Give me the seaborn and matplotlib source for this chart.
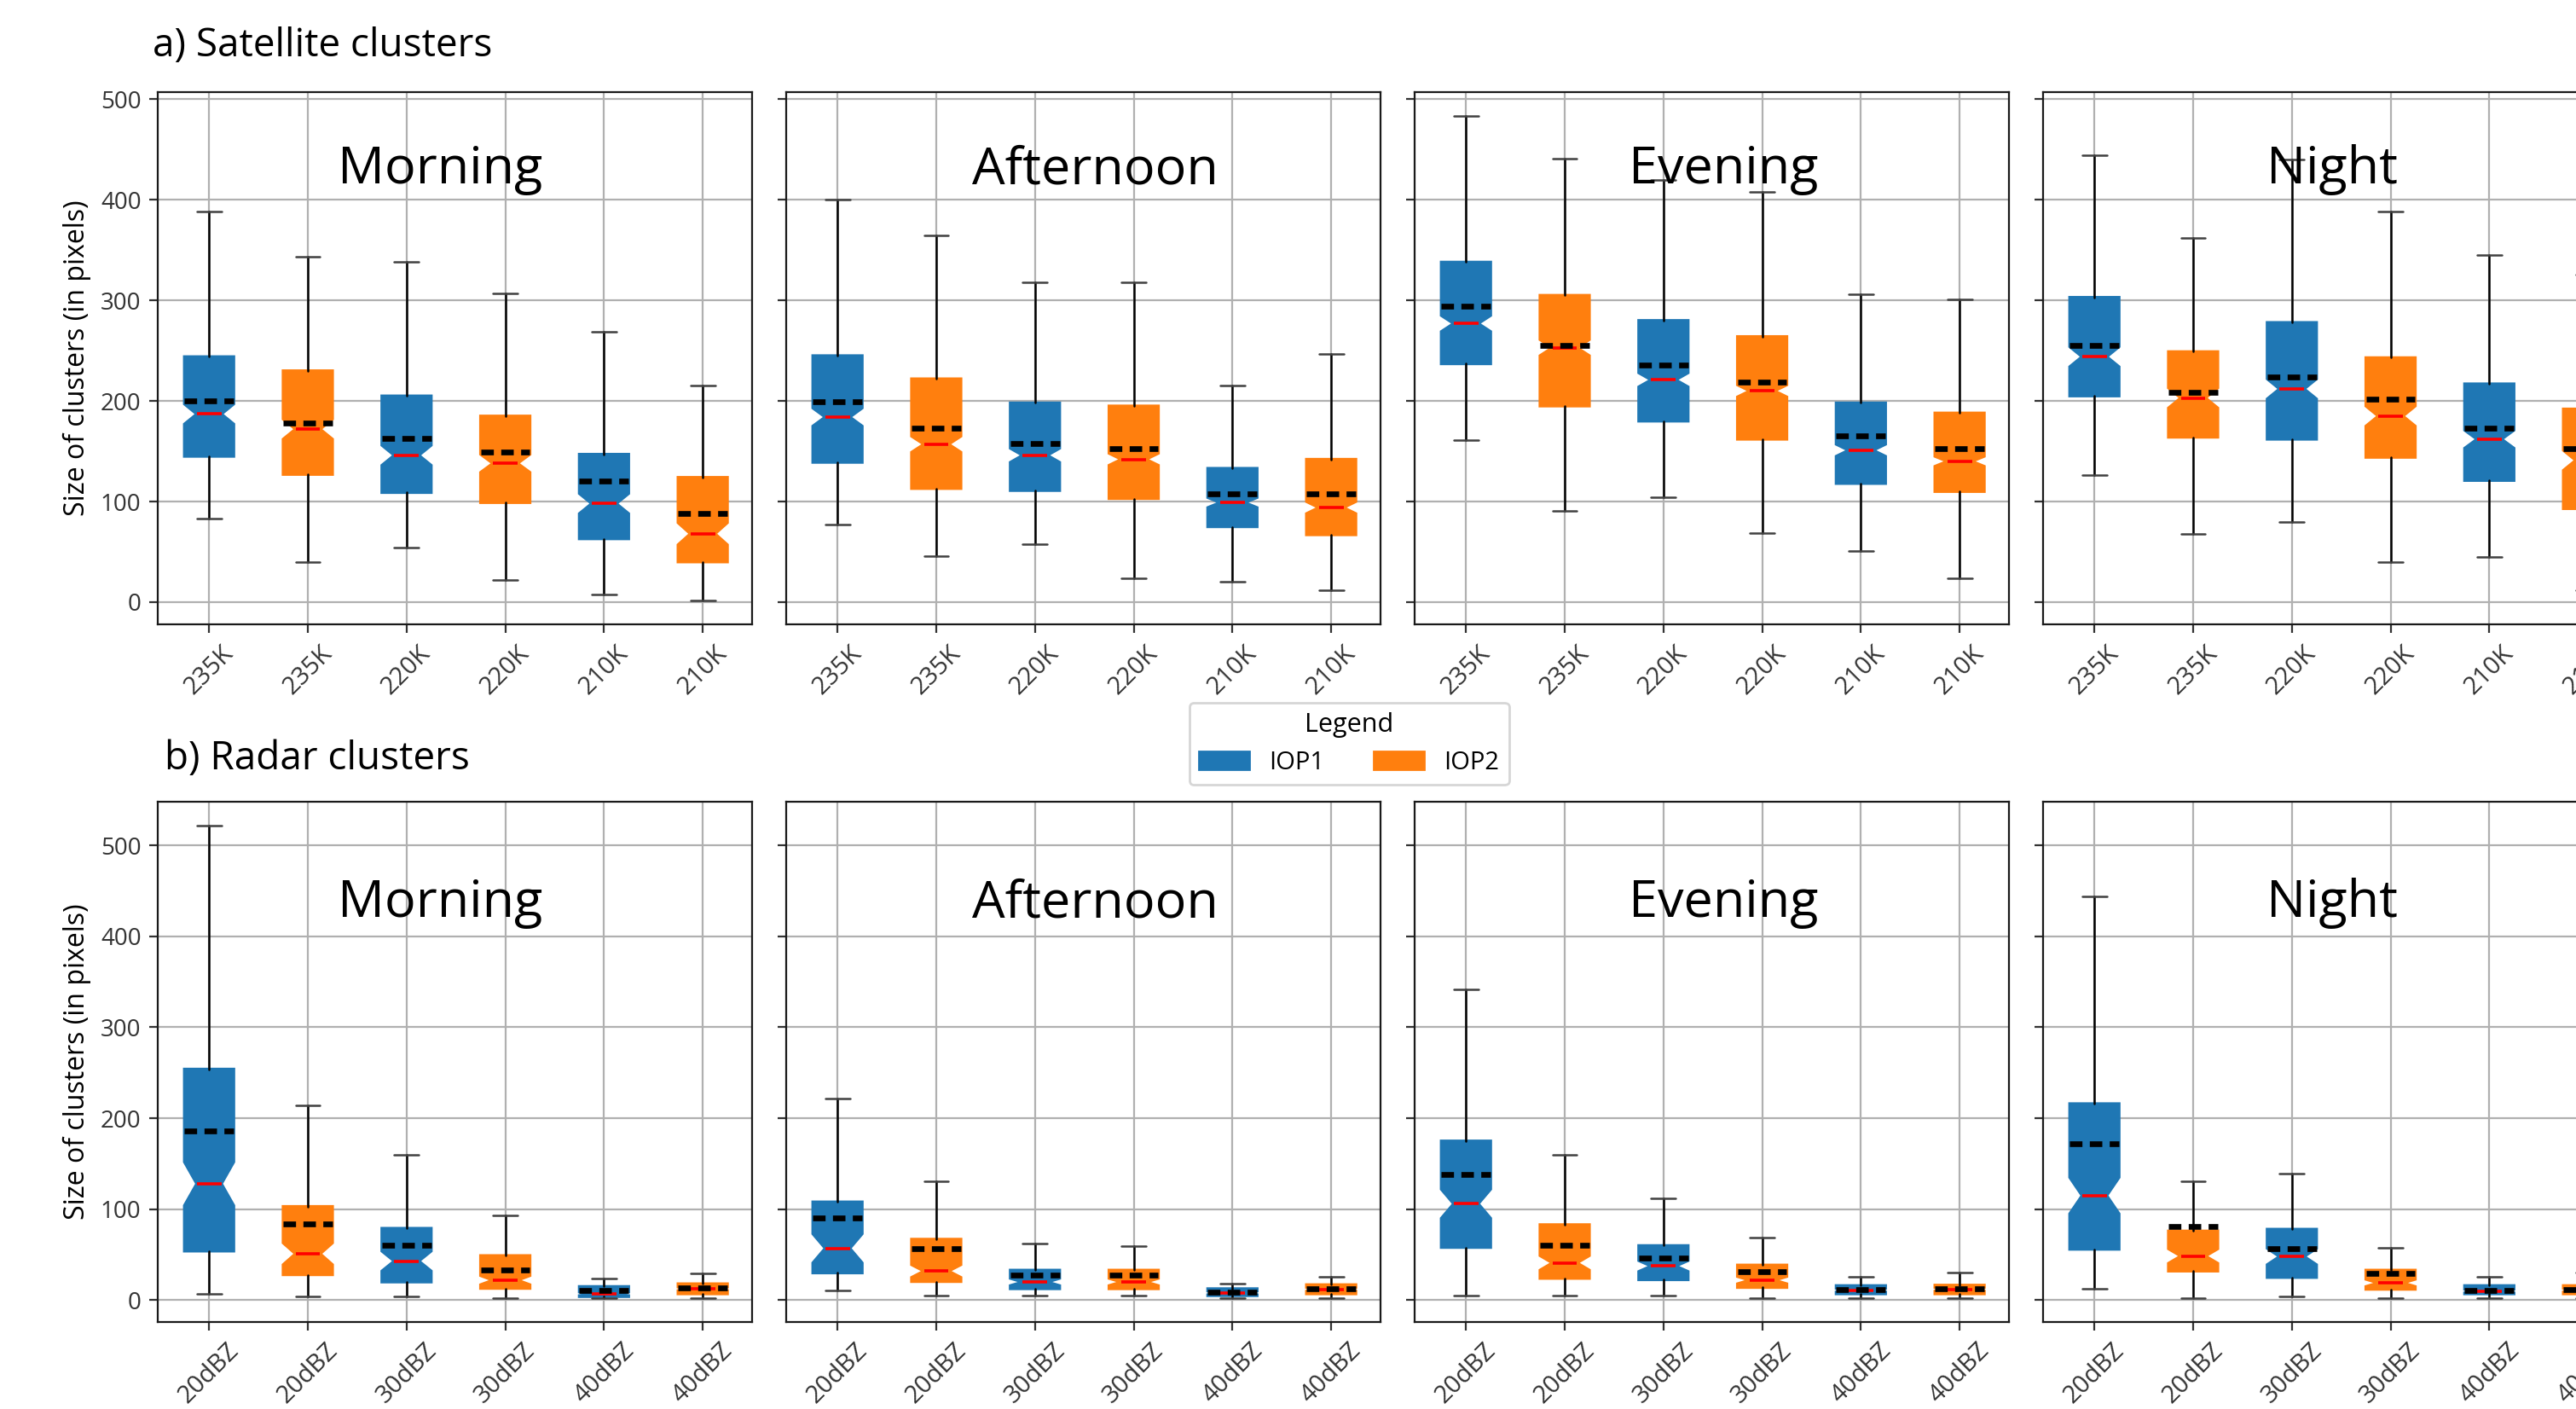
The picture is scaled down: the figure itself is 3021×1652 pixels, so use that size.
"""Cluster size box plots: satellite (a) and radar (b) clusters by time of day."""
import matplotlib
matplotlib.use("Agg")
import matplotlib.pyplot as plt
from matplotlib.patches import Patch
import seaborn as sns

periods = ["Morning", "Afternoon", "Evening", "Night"]
sat_labels = ["235K", "235K", "220K", "220K", "210K", "210K"]
radar_labels = ["20dBZ", "20dBZ", "30dBZ", "30dBZ", "40dBZ", "40dBZ"]
campaigns = ["IOP1", "IOP2"]

# satellite clusters: one row per period, one value per box (IOP1/IOP2 alternating)
sat_whislo = [[83, 40, 54, 22, 8, 2],
              [77, 46, 58, 24, 20, 12],
              [161, 91, 104, 69, 51, 24],
              [126, 68, 80, 40, 45, 12]]
sat_q1 = [[145, 127, 109, 99, 63, 40],
          [139, 113, 111, 103, 75, 67],
          [237, 195, 180, 162, 118, 110],
          [205, 164, 162, 144, 121, 93]]
sat_med = [[187, 172, 146, 138, 98, 68],
           [184, 157, 146, 142, 99, 94],
           [277, 253, 221, 210, 151, 140],
           [244, 203, 212, 185, 162, 141]]
sat_q3 = [[244, 230, 205, 185, 147, 124],
          [245, 222, 198, 195, 133, 142],
          [338, 305, 280, 264, 198, 188],
          [303, 249, 278, 243, 217, 192]]
sat_whishi = [[388, 343, 338, 307, 269, 215],
              [400, 365, 318, 318, 215, 247],
              [483, 441, 420, 408, 306, 301],
              [444, 362, 440, 388, 345, 326]]
sat_mean = [[200, 178, 163, 149, 120, 88],
            [199, 173, 158, 153, 108, 108],
            [294, 255, 236, 219, 165, 153],
            [255, 209, 224, 202, 173, 153]]
sat_notch = [[10, 10, 10, 9, 10, 11],
             [9, 8, 7, 6, 5, 6],
             [8, 8, 7, 6, 6, 5],
             [10, 10, 10, 10, 9, 10]]

# radar clusters
radar_whislo = [[7, 4.5, 4.5, 2, 2, 2],
                [11, 5, 5, 5, 2, 2],
                [5, 5, 5, 2, 2, 2],
                [12.6, 2, 4.5, 2, 2, 2]]
radar_q1 = [[54, 28, 20, 13, 4, 7],
            [30, 20.5, 12.6, 12.6, 5, 7],
            [58, 24, 22.5, 14, 7, 7],
            [56, 32, 25, 12, 7, 7]]
radar_med = [[128, 51, 43, 22, 7, 12.5],
             [57, 32, 20, 20, 8, 12],
             [106, 41, 37.5, 22, 11, 12],
             [115, 48.5, 48, 19, 10, 11]]
radar_q3 = [[254, 103, 79, 49, 15, 18],
            [108, 67, 33, 33, 12.6, 17],
            [175, 83, 60, 38.6, 16, 16.5],
            [216, 76, 78, 33, 16, 16]]
radar_whishi = [[522, 214, 160, 93, 24, 29],
                [222, 131, 62, 59, 18.5, 26],
                [342, 160, 112, 69, 26, 30],
                [444, 131, 139, 58, 26, 30]]
radar_mean = [[186, 84, 60, 33, 11, 13.5],
              [90, 57, 28, 28, 9, 12.6],
              [138, 60, 46.5, 31, 12, 12.6],
              [172, 81, 57, 29, 11, 12]]
radar_notch = [[24, 12, 11, 5, 2, 2],
               [16, 7, 4, 4, 2, 2],
               [16, 8, 6, 4, 2, 2],
               [20, 8, 9, 4, 2, 2]]

sns.set_style("ticks", {"axes.edgecolor": "0.1", "xtick.color": "0.2",
                        "ytick.color": "0.2", "text.color": "black",
                        "axes.labelcolor": "black", "grid.color": "#b0b0b0"})
plt.rcParams["font.family"] = ["Open Sans", "DejaVu Sans"]
colors = sns.color_palette("tab10")[:2]

W, H, DPI = 3021, 1652, 200
fig = plt.figure(figsize=(W / DPI, H / DPI), dpi=DPI)

lefts = [185, 922, 1659, 2396]
ax_w = 697
rows = [(108, 732), (940, 1550)]
title_y = [416, 421]
title_dx = [-0.15, 0.12, 0.12, -0.08]


def panel(ax, r, i, whislo, q1, med, q3, whishi, mean, notch, labels):
    stats = []
    for k in range(6):
        stats.append(dict(med=med[i][k], q1=q1[i][k], q3=q3[i][k],
                          whislo=whislo[i][k], whishi=whishi[i][k],
                          mean=mean[i][k], fliers=[],
                          cilo=med[i][k] - notch[i][k],
                          cihi=med[i][k] + notch[i][k]))
    bp = ax.bxp(stats, positions=range(1, 7), widths=0.5, patch_artist=True,
                shownotches=True, showmeans=True, meanline=True, showfliers=False,
                whiskerprops=dict(color="black", lw=0.9),
                capprops=dict(color="0.25", lw=0.9),
                medianprops=dict(color="red", lw=1.3),
                meanprops=dict(color="black", lw=2.4, linestyle=(0, (2.2, 1.3))))
    for k, box in enumerate(bp["boxes"]):
        c = colors[k % 2]
        box.set_facecolor(c)
        box.set_edgecolor(c)
        box.set_linewidth(1.2)
    ax.set_xticks(range(1, 7))
    ax.set_xticklabels(labels, rotation=45, fontsize=10.5)
    ax.set_xlim(0.48, 6.5)
    ax.grid(True, lw=0.8)
    ax.set_axisbelow(True)
    ax.tick_params(axis="y", labelsize=10)
    ax.text(3.49 + title_dx[i], title_y[r], periods[i],
            ha="center", va="baseline", fontsize=22)


datasets = [
    (sat_whislo, sat_q1, sat_med, sat_q3, sat_whishi, sat_mean, sat_notch, sat_labels),
    (radar_whislo, radar_q1, radar_med, radar_q3, radar_whishi, radar_mean, radar_notch, radar_labels),
]

for r, (top, bot) in enumerate(rows):
    first = None
    for i, left in enumerate(lefts):
        rect = [left / W, 1 - bot / H, ax_w / W, (bot - top) / H]
        ax = fig.add_axes(rect, sharey=first)
        if first is None:
            first = ax
        panel(ax, r, i, *datasets[r])
        if i == 0:
            ax.set_ylabel("Size of clusters (in pixels)", fontsize=11.5)
        else:
            plt.setp(ax.get_yticklabels(), visible=False)

fig.text(179 / W, 1 - 54 / H, "a) Satellite clusters", fontsize=16.5, va="center", ha="left")
fig.text(193 / W, 1 - 890 / H, "b) Radar clusters", fontsize=16.5, va="center", ha="left")

handles = [Patch(facecolor=c, edgecolor=c, label=l) for c, l in zip(colors, campaigns)]
fig.legend(handles=handles, title="Legend", ncol=2, loc="center",
           bbox_to_anchor=(1582 / W, 1 - 872 / H), fontsize=10.5, title_fontsize=11)

fig.savefig("out.png", dpi=DPI)
